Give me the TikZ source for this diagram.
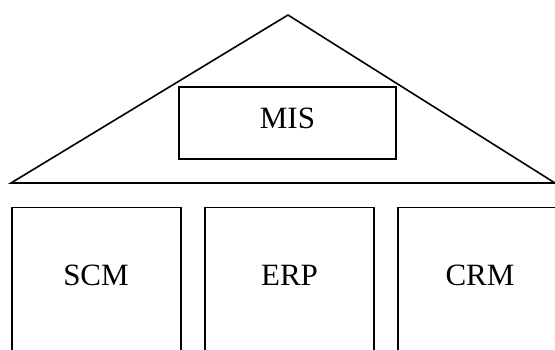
\documentclass[tikz,border=0pt]{standalone}
\usepackage{fontspec}
\setmainfont{Liberation Serif}
\begin{document}
\begin{tikzpicture}[x=1pt,y=-1pt,
  line/.style={draw=black,line width=1.6pt,line join=miter},
  lbl/.style={font=\fontsize{31}{31}\selectfont,inner sep=0pt,anchor=base}]
\useasboundingbox (0,0) rectangle (555,349);
\clip (0,0) rectangle (555,349);
% roof
\draw[line] (11,183) -- (288,15) -- (555,183) -- cycle;
% MIS box
\draw[line] (179,87) rectangle (396,159);
\node[lbl] (mis) at (287.5,128) {MIS};
% pillars
\draw[line] (12,360) -- (12,207.5) -- (181,207.5) -- (181,360);
\draw[line] (205,360) -- (205,207.5) -- (374,207.5) -- (374,360);
\draw[line] (398,360) -- (398,207.5) -- (560,207.5);
\node[lbl] (scm) at (96,285) {SCM};
\node[lbl] (erp) at (289.5,285) {ERP};
\node[lbl] (crm) at (480,285) {CRM};
\end{tikzpicture}
\end{document}
